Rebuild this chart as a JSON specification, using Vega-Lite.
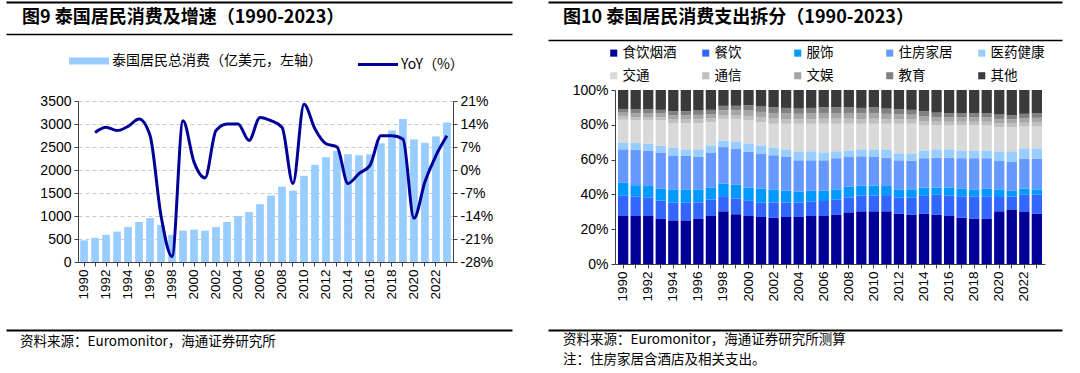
{
  "$schema": "https://vega.github.io/schema/vega-lite/v6.json",
  "padding": {"left": 6, "top": 2, "right": 0, "bottom": 0},
  "background": "white",
  "config": {
    "view": {"stroke": null},
    "font": "Liberation Sans",
    "axis": {"labelFont": "Liberation Sans", "labelColor": "#000", "labelFontSize": 14, "domainColor": "#404040", "tickColor": "#404040", "tickSize": 4, "grid": false}
  },
  "spacing": -36,
  "align": "none",
  "resolve": {"scale": {"color": "independent"}, "legend": {"color": "independent"}},
  "hconcat": [
    {
      "spacing": 0,
      "resolve": {"scale": {"color": "independent"}, "legend": {"color": "independent"}},
      "vconcat": [
        {
          "width": 375, "height": 32,
          "data": {"values": [{"title": "图9  泰国居民消费及增速（1990-2023）"}]},
          "mark": {"type": "text", "align": "left", "baseline": "middle", "dx": 16, "font": "Noto Sans CJK SC", "fontSize": 18, "fontWeight": "bold", "color": "#000"},
          "encoding": {
            "x": {"datum": 0, "type": "quantitative", "scale": {"domain": [0, 1], "range": [-72, 434]}, "axis": {"orient": "top", "domain": true, "domainColor": "#000", "domainWidth": 2, "ticks": false, "labels": false, "grid": false, "title": null}},
            "text": {"field": "title"}
          }
        },
        {
          "width": 375, "height": 20,
          "data": {"values": [{"title": ""}]},
          "mark": {"type": "text", "color": "#000"},
          "encoding": {
            "x": {"datum": 0, "type": "quantitative", "scale": {"domain": [0, 1], "range": [-72, 434]}, "axis": {"orient": "top", "domain": true, "domainColor": "#000", "domainWidth": 1.5, "ticks": false, "labels": false, "grid": false, "title": null}},
            "text": {"field": "title"}
          }
        },
        {
          "width": 375, "height": 161,
          "data": {"values": [
            {"year": 1990, "total": 470, "yoy": null},
            {"year": 1991, "total": 524, "yoy": 11.4},
            {"year": 1992, "total": 589, "yoy": 13.0},
            {"year": 1993, "total": 661, "yoy": 12.0},
            {"year": 1994, "total": 761, "yoy": 13.3},
            {"year": 1995, "total": 869, "yoy": 15.5},
            {"year": 1996, "total": 955, "yoy": 10.5},
            {"year": 1997, "total": 805, "yoy": -14.0},
            {"year": 1998, "total": 589, "yoy": -26.3},
            {"year": 1999, "total": 682, "yoy": 15.0},
            {"year": 2000, "total": 704, "yoy": 2.4},
            {"year": 2001, "total": 682, "yoy": -2.4},
            {"year": 2002, "total": 761, "yoy": 12.0},
            {"year": 2003, "total": 869, "yoy": 14.0},
            {"year": 2004, "total": 998, "yoy": 14.0},
            {"year": 2005, "total": 1085, "yoy": 9.0},
            {"year": 2006, "total": 1257, "yoy": 16.0},
            {"year": 2007, "total": 1444, "yoy": 15.0},
            {"year": 2008, "total": 1638, "yoy": 13.0},
            {"year": 2009, "total": 1552, "yoy": -4.1},
            {"year": 2010, "total": 1875, "yoy": 20.0},
            {"year": 2011, "total": 2112, "yoy": 12.5},
            {"year": 2012, "total": 2277, "yoy": 8.0},
            {"year": 2013, "total": 2414, "yoy": 7.0},
            {"year": 2014, "total": 2342, "yoy": -4.1},
            {"year": 2015, "total": 2320, "yoy": -1.1},
            {"year": 2016, "total": 2342, "yoy": 1.4},
            {"year": 2017, "total": 2579, "yoy": 10.4},
            {"year": 2018, "total": 2859, "yoy": 10.4},
            {"year": 2019, "total": 3110, "yoy": 9.4},
            {"year": 2020, "total": 2665, "yoy": -14.7},
            {"year": 2021, "total": 2593, "yoy": -3.6},
            {"year": 2022, "total": 2730, "yoy": 4.4},
            {"year": 2023, "total": 3032, "yoy": 10.4}
          ]},
          "encoding": {
            "x": {"field": "year", "type": "ordinal", "scale": {"paddingInner": 0.3, "paddingOuter": 0.2},
              "axis": {"labelAngle": -90, "labelExpr": "datum.value % 2 === 0 ? datum.label : ''", "labelFontSize": 13.5, "labelPadding": 3, "tickSize": 4, "title": " ", "titleFontSize": 14, "titlePadding": 16}}
          },
          "layer": [
            {
              "mark": {"type": "bar"},
              "encoding": {
                "y": {"field": "total", "type": "quantitative", "scale": {"domain": [0, 3500]},
                  "axis": {"values": [0, 500, 1000, 1500, 2000, 2500, 3000, 3500], "format": "d", "grid": true, "gridDash": [4, 3], "gridColor": "#C8C8C8", "title": null, "labelPadding": 3}},
                "color": {"datum": "泰国居民总消费（亿美元，左轴）", "type": "nominal",
                  "scale": {"domain": ["泰国居民总消费（亿美元，左轴）", "YoY（%）"], "range": ["#99CCFF", "#000099"]},
                  "legend": {"orient": "none", "legendX": 4, "legendY": -47, "direction": "horizontal", "title": null, "padding": 0,
                    "symbolType": "stroke", "symbolSize": 1600, "symbolStrokeWidth": 3,
                    "labelFont": "Noto Sans CJK SC", "labelFontSize": 14, "labelColor": "#000", "labelLimit": 400, "columnPadding": 30, "labelOffset": 16,
                    "encode": {"symbols": {"update": {
                      "stroke": {"signal": "datum.value === 'YoY（%）' ? '#000099' : '#99CCFF'"},
                      "strokeWidth": {"signal": "datum.value === 'YoY（%）' ? 3 : 7"},
                      "fill": {"value": "transparent"}
                    }}}}
                }
              }
            },
            {
              "mark": {"type": "line", "interpolate": "monotone", "strokeWidth": 3},
              "encoding": {
                "y": {"field": "yoy", "type": "quantitative", "scale": {"domain": [-28, 21]},
                  "axis": {"orient": "right", "values": [-28, -21, -14, -7, 0, 7, 14, 21], "labelExpr": "datum.value + '%'", "title": null, "labelPadding": 3}},
                "color": {"datum": "YoY（%）", "type": "nominal"}
              }
            }
          ],
          "resolve": {"scale": {"y": "independent"}}
        },
        {
          "width": 375, "height": 24,
          "data": {"values": [{"src": "资料来源：Euromonitor，海通证券研究所"}]},
          "mark": {"type": "text", "align": "left", "baseline": "middle", "dx": 14, "font": "Noto Sans CJK SC", "fontSize": 13.5, "color": "#000"},
          "encoding": {
            "x": {"datum": 0, "type": "quantitative", "scale": {"domain": [0, 1], "range": [-72, 434]}, "axis": {"orient": "top", "domain": true, "domainColor": "#000", "domainWidth": 2, "ticks": false, "labels": false, "grid": false, "title": null}},
            "text": {"field": "src"}
          }
        }
      ]
    },
    {
      "spacing": 0,
      "resolve": {"scale": {"color": "independent"}, "legend": {"color": "independent"}},
      "vconcat": [
        {
          "width": 430, "height": 32,
          "data": {"values": [{"title": "图10 泰国居民消费支出拆分（1990-2023）"}]},
          "mark": {"type": "text", "align": "left", "baseline": "middle", "dx": 15, "font": "Noto Sans CJK SC", "fontSize": 18, "fontWeight": "bold", "color": "#000"},
          "encoding": {
            "x": {"datum": 0, "type": "quantitative", "scale": {"domain": [0, 1], "range": [-67, 447]}, "axis": {"orient": "top", "domain": true, "domainColor": "#000", "domainWidth": 2, "ticks": false, "labels": false, "grid": false, "title": null}},
            "text": {"field": "title"}
          }
        },
        {
          "width": 430, "height": 1,
          "data": {"values": [{"title": ""}]},
          "mark": {"type": "text", "color": "#000"},
          "encoding": {
            "x": {"datum": 0, "type": "quantitative", "scale": {"domain": [0, 1], "range": [-67, 447]}, "axis": {"orient": "top", "domain": true, "domainColor": "#000", "domainWidth": 1.5, "ticks": false, "labels": false, "grid": false, "title": null}},
            "text": {"field": "title"}
          }
        },
        {
          "width": 430, "height": 174,
          "data": {"values": [
            {"year": 1990, "食饮烟酒": 27.6, "餐饮": 11.6, "服饰": 7.7, "住房家居": 19.0, "医药健康": 4.0, "交通": 13.0, "通信": 1.9, "文娱": 2.2, "教育": 2.1, "其他": 10.9},
            {"year": 1991, "食饮烟酒": 27.6, "餐饮": 11.3, "服饰": 6.4, "住房家居": 20.2, "医药健康": 4.0, "交通": 13.0, "通信": 1.9, "文娱": 2.3, "教育": 2.2, "其他": 11.1},
            {"year": 1992, "食饮烟酒": 27.6, "餐饮": 10.7, "服饰": 6.5, "住房家居": 20.2, "医药健康": 4.1, "交通": 13.4, "通信": 1.9, "文娱": 2.3, "教育": 2.2, "其他": 11.1},
            {"year": 1993, "食饮烟酒": 25.9, "餐饮": 10.5, "服饰": 6.8, "住房家居": 20.6, "医药健康": 4.2, "交通": 14.5, "通信": 1.8, "文娱": 2.2, "教育": 2.1, "其他": 11.4},
            {"year": 1994, "食饮烟酒": 25.1, "餐饮": 10.1, "服饰": 7.7, "住房家居": 19.2, "医药健康": 4.6, "交通": 14.3, "通信": 2.0, "文娱": 2.4, "教育": 2.4, "其他": 12.2},
            {"year": 1995, "食饮烟酒": 25.1, "餐饮": 10.1, "服饰": 7.7, "住房家居": 19.2, "医药健康": 3.8, "交通": 15.1, "通信": 2.0, "文娱": 2.4, "教育": 2.4, "其他": 12.2},
            {"year": 1996, "食饮烟酒": 25.9, "餐饮": 9.5, "服饰": 7.5, "住房家居": 18.6, "医药健康": 4.4, "交通": 15.1, "通信": 2.2, "文娱": 2.5, "教育": 2.5, "其他": 11.8},
            {"year": 1997, "食饮烟酒": 27.6, "餐饮": 9.4, "服饰": 7.0, "住房家居": 19.8, "医药健康": 4.4, "交通": 13.3, "通信": 2.1, "文娱": 2.5, "教育": 2.5, "其他": 11.4},
            {"year": 1998, "食饮烟酒": 30.3, "餐饮": 8.7, "服饰": 7.1, "住房家居": 21.1, "医药健康": 3.8, "交通": 12.4, "通信": 2.2, "文娱": 2.7, "教育": 2.6, "其他": 9.1},
            {"year": 1999, "食饮烟酒": 28.6, "餐饮": 9.1, "服饰": 7.8, "住房家居": 20.6, "医药健康": 4.4, "交通": 12.9, "通信": 2.2, "文娱": 2.7, "教育": 2.6, "其他": 9.1},
            {"year": 2000, "食饮烟酒": 27.6, "餐饮": 9.0, "服饰": 7.4, "住房家居": 20.6, "医药健康": 4.7, "交通": 13.2, "通信": 2.6, "文娱": 3.1, "教育": 3.0, "其他": 8.8},
            {"year": 2001, "食饮烟酒": 27.0, "餐饮": 8.2, "服饰": 8.2, "住房家居": 19.8, "医药健康": 5.0, "交通": 13.3, "通信": 2.7, "文娱": 3.2, "教育": 3.1, "其他": 9.5},
            {"year": 2002, "食饮烟酒": 26.5, "餐饮": 8.9, "服饰": 7.5, "住房家居": 19.6, "医药健康": 4.5, "交通": 13.6, "通信": 2.9, "文娱": 3.3, "教育": 3.3, "其他": 9.9},
            {"year": 2003, "食饮烟酒": 27.0, "餐饮": 8.4, "服饰": 6.7, "住房家居": 19.4, "医药健康": 4.4, "交通": 14.7, "通信": 2.7, "文娱": 3.2, "教育": 3.2, "其他": 10.3},
            {"year": 2004, "食饮烟酒": 27.0, "餐饮": 8.4, "服饰": 6.3, "住房家居": 17.9, "医药健康": 5.2, "交通": 15.8, "通信": 2.6, "文娱": 3.1, "教育": 3.0, "其他": 10.7},
            {"year": 2005, "食饮烟酒": 27.6, "餐饮": 8.4, "服饰": 6.1, "住房家居": 17.5, "医药健康": 5.2, "交通": 15.8, "通信": 2.7, "文娱": 3.2, "教育": 3.2, "其他": 10.3},
            {"year": 2006, "食饮烟酒": 27.6, "餐饮": 8.6, "服饰": 5.9, "住房家居": 17.5, "医药健康": 4.6, "交通": 16.4, "通信": 2.9, "文娱": 3.3, "教育": 3.3, "其他": 9.9},
            {"year": 2007, "食饮烟酒": 28.2, "餐饮": 8.9, "服饰": 5.8, "住房家居": 17.9, "医药健康": 4.0, "交通": 15.8, "通信": 2.9, "文娱": 3.3, "教育": 3.3, "其他": 9.9},
            {"year": 2008, "食饮烟酒": 29.7, "餐饮": 8.6, "服饰": 6.1, "住房家居": 17.1, "医药健康": 3.8, "交通": 15.3, "通信": 2.9, "文娱": 3.3, "教育": 3.3, "其他": 9.9},
            {"year": 2009, "食饮烟酒": 30.3, "餐饮": 9.1, "服饰": 5.6, "住房家居": 16.9, "医药健康": 4.0, "交通": 14.7, "通信": 2.7, "文娱": 3.2, "教育": 3.2, "其他": 10.3},
            {"year": 2010, "食饮烟酒": 30.3, "餐饮": 9.1, "服饰": 5.6, "住房家居": 16.5, "医药健康": 4.4, "交通": 14.7, "通信": 2.9, "文娱": 3.3, "教育": 3.3, "其他": 9.9},
            {"year": 2011, "食饮烟酒": 30.3, "餐饮": 9.3, "服饰": 5.2, "住房家居": 16.3, "医药健康": 4.8, "交通": 14.7, "通信": 2.6, "文娱": 3.1, "教育": 3.0, "其他": 10.7},
            {"year": 2012, "食饮烟酒": 28.8, "餐饮": 9.5, "服饰": 4.6, "住房家居": 16.7, "医药健康": 4.0, "交通": 17.0, "通信": 2.5, "文娱": 2.9, "教育": 2.9, "其他": 11.1},
            {"year": 2013, "食饮烟酒": 28.2, "餐饮": 10.1, "服饰": 4.6, "住房家居": 16.5, "医药健康": 4.2, "交通": 17.0, "通信": 2.4, "文娱": 2.8, "教育": 2.8, "其他": 11.4},
            {"year": 2014, "食饮烟酒": 28.8, "餐饮": 10.4, "服饰": 4.6, "住房家居": 17.0, "医药健康": 4.5, "交通": 14.3, "通信": 2.5, "文娱": 2.9, "教育": 2.8, "其他": 12.2},
            {"year": 2015, "食饮烟酒": 28.2, "餐饮": 11.6, "服饰": 4.2, "住房家居": 17.1, "医药健康": 4.8, "交通": 13.7, "通信": 2.2, "文娱": 2.6, "教育": 2.6, "其他": 13.0},
            {"year": 2016, "食饮烟酒": 27.6, "餐饮": 11.8, "服饰": 4.6, "住房家居": 17.1, "医药健康": 4.8, "交通": 13.7, "通信": 2.1, "文娱": 2.5, "教育": 2.5, "其他": 13.3},
            {"year": 2017, "食饮烟酒": 26.7, "餐饮": 12.2, "服饰": 4.3, "住房家居": 17.6, "医药健康": 4.5, "交通": 14.3, "通信": 2.1, "文娱": 2.5, "教育": 2.5, "其他": 13.3},
            {"year": 2018, "食饮烟酒": 25.9, "餐饮": 13.0, "服饰": 4.0, "住房家居": 17.9, "医药健康": 4.5, "交通": 14.3, "通信": 2.1, "文娱": 2.5, "教育": 2.5, "其他": 13.3},
            {"year": 2019, "食饮烟酒": 25.9, "餐饮": 13.0, "服饰": 4.3, "住房家居": 17.6, "医药健康": 4.5, "交通": 14.3, "通信": 2.1, "文娱": 2.5, "教育": 2.5, "其他": 13.3},
            {"year": 2020, "食饮烟酒": 30.3, "餐饮": 8.2, "服饰": 4.4, "住房家居": 16.3, "医药健康": 5.6, "交通": 13.9, "通信": 2.2, "文娱": 2.5, "教育": 2.5, "其他": 14.1},
            {"year": 2021, "食饮烟酒": 31.4, "餐饮": 7.3, "服饰": 3.4, "住房家居": 16.6, "医药健康": 6.1, "交通": 13.9, "通信": 2.0, "文娱": 2.4, "教育": 2.4, "其他": 14.5},
            {"year": 2022, "食饮烟酒": 29.9, "餐饮": 9.9, "服饰": 3.6, "住房家居": 17.0, "医药健康": 6.1, "交通": 12.5, "通信": 2.2, "文娱": 2.6, "教育": 2.5, "其他": 13.7},
            {"year": 2023, "食饮烟酒": 28.8, "餐饮": 11.0, "服饰": 3.1, "住房家居": 17.5, "医药健康": 6.1, "交通": 12.5, "通信": 2.3, "文娱": 2.7, "教育": 2.7, "其他": 13.3}
          ]},
          "transform": [
            {"fold": ["食饮烟酒", "餐饮", "服饰", "住房家居", "医药健康", "交通", "通信", "文娱", "教育", "其他"], "as": ["cat", "v"]},
            {"lookup": "cat", "from": {"data": {"values": [
              {"cat": "食饮烟酒", "rank": 1}, {"cat": "餐饮", "rank": 2}, {"cat": "服饰", "rank": 3}, {"cat": "住房家居", "rank": 4}, {"cat": "医药健康", "rank": 5},
              {"cat": "交通", "rank": 6}, {"cat": "通信", "rank": 7}, {"cat": "文娱", "rank": 8}, {"cat": "教育", "rank": 9}, {"cat": "其他", "rank": 10}
            ]}, "key": "cat", "fields": ["rank"]}}
          ],
          "mark": {"type": "bar"},
          "encoding": {
            "x": {"field": "year", "type": "ordinal", "scale": {"paddingInner": 0.18, "paddingOuter": 0.24},
              "axis": {"labelAngle": -90, "labelExpr": "datum.value % 2 === 0 ? datum.label : ''", "labelFontSize": 13.5, "labelPadding": 3, "tickSize": 4, "title": " ", "titleFontSize": 14, "titlePadding": 14}},
            "y": {"field": "v", "type": "quantitative", "stack": "normalize", "scale": {"domain": [0, 1]},
              "axis": {"values": [0, 0.2, 0.4, 0.6, 0.8, 1], "format": ".0%", "title": null, "labelPadding": 3}},
            "order": {"field": "rank", "type": "quantitative", "sort": "ascending"},
            "color": {"field": "cat", "type": "nominal",
              "scale": {"domain": ["食饮烟酒", "餐饮", "服饰", "住房家居", "医药健康", "交通", "通信", "文娱", "教育", "其他"],
                "range": ["#000099", "#3366FF", "#0099FF", "#6699FF", "#99CCFF", "#D9D9D9", "#BFBFBF", "#A6A6A6", "#808080", "#3A3A3A"]},
              "legend": {"orient": "none", "legendX": -8, "legendY": -44, "direction": "horizontal", "columns": 5, "title": null, "padding": 0,
                "symbolType": "square", "symbolSize": 50, "symbolStrokeWidth": 0, "gridAlign": "all", "columnPadding": 22, "rowPadding": 8,
                "labelFont": "Noto Sans CJK SC", "labelFontSize": 13.5, "labelColor": "#000", "labelOffset": 2}
            }
          }
        },
        {
          "width": 430, "height": 40,
          "data": {"values": [{"n": 1, "src": "资料来源：Euromonitor，海通证券研究所测算"}, {"n": 2, "src": "注：住房家居含酒店及相关支出。"}]},
          "mark": {"type": "text", "align": "left", "baseline": "middle", "dx": 15, "font": "Noto Sans CJK SC", "fontSize": 13.5, "color": "#000"},
          "encoding": {
            "x": {"datum": 0, "type": "quantitative", "scale": {"domain": [0, 1], "range": [-67, 447]}, "axis": {"orient": "top", "domain": true, "domainColor": "#000", "domainWidth": 2, "ticks": false, "labels": false, "grid": false, "title": null}},
            "y": {"field": "n", "type": "ordinal", "axis": null},
            "text": {"field": "src"}
          }
        }
      ]
    }
  ]
}
